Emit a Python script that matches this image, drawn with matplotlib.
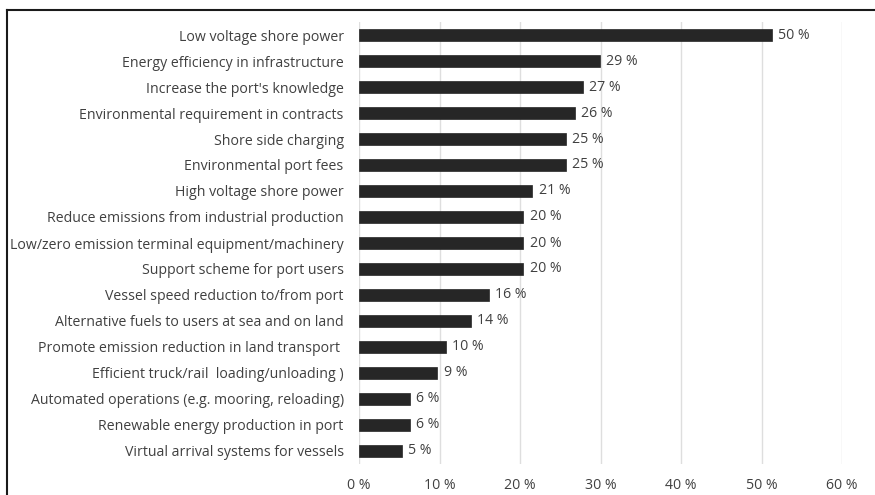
import matplotlib.pyplot as plt
from matplotlib.lines import Line2D

# Measures, top to bottom as in the chart
categories = [
    "Low voltage shore power",
    "Energy efficiency in infrastructure",
    "Increase the port's knowledge",
    "Environmental requirement in contracts",
    "Shore side charging",
    "Environmental port fees",
    "High voltage shore power",
    "Reduce emissions from industrial production",
    "Low/zero emission terminal equipment/machinery",
    "Support scheme for port users",
    "Vessel speed reduction to/from port",
    "Alternative fuels to users at sea and on land",
    "Promote emission reduction in land transport ",
    "Efficient truck/rail  loading/unloading )",
    "Automated operations (e.g. mooring, reloading)",
    "Renewable energy production in port",
    "Virtual arrival systems for vessels",
]
# bar lengths (share of respondents, %)
values = [51.3, 29.9, 27.8, 26.8, 25.7, 25.7, 21.5, 20.4, 20.4, 20.4,
          16.1, 13.9, 10.8, 9.7, 6.3, 6.3, 5.3]
# printed data labels
value_labels = ["50 %", "29 %", "27 %", "26 %", "25 %", "25 %", "21 %", "20 %",
                "20 %", "20 %", "16 %", "14 %", "10 %", "9 %", "6 %", "6 %", "5 %"]
xticks = [0, 10, 20, 30, 40, 50, 60]

plt.rcParams['font.family'] = ['Open Sans', 'DejaVu Sans']
txt = '#404040'
fs = 10.2

fig = plt.figure(figsize=(8.75, 4.95), dpi=100)
ax = fig.add_axes([359 / 875, 1 - 464 / 495, (842 - 359) / 875, (464 - 22) / 495])

pos = list(range(len(categories)))
ax.barh(pos, values, height=0.46, color='#262626', edgecolor='#262626', linewidth=0.5, zorder=3)
for p, v, lab in zip(pos, values, value_labels):
    ax.text(v + 0.8, p, lab, va='center', ha='left', fontsize=fs, color=txt)

ax.set_ylim(len(categories) - 0.5, -0.5)
ax.set_xlim(0, 60)
ax.set_yticks(pos)
ax.set_yticklabels(categories, fontsize=fs, color=txt)
ax.set_xticks(xticks)
ax.set_xticklabels([f"{t} %" for t in xticks], fontsize=fs, color=txt)
ax.tick_params(axis='both', length=0)
ax.tick_params(axis='y', pad=11)
ax.tick_params(axis='x', pad=10)
ax.grid(axis='x', color='#dedede', linewidth=1, zorder=0)
for s in ax.spines.values():
    s.set_visible(False)

# outer frame (left and top edges visible in the crop)
fig.add_artist(Line2D([7 / 875, 7 / 875], [0, 1 - 10 / 495], transform=fig.transFigure, color='#1a1a1a', lw=1.5))
fig.add_artist(Line2D([7 / 875, 1], [1 - 10 / 495, 1 - 10 / 495], transform=fig.transFigure, color='#1a1a1a', lw=1.5))

fig.savefig('out.png', dpi=100)
